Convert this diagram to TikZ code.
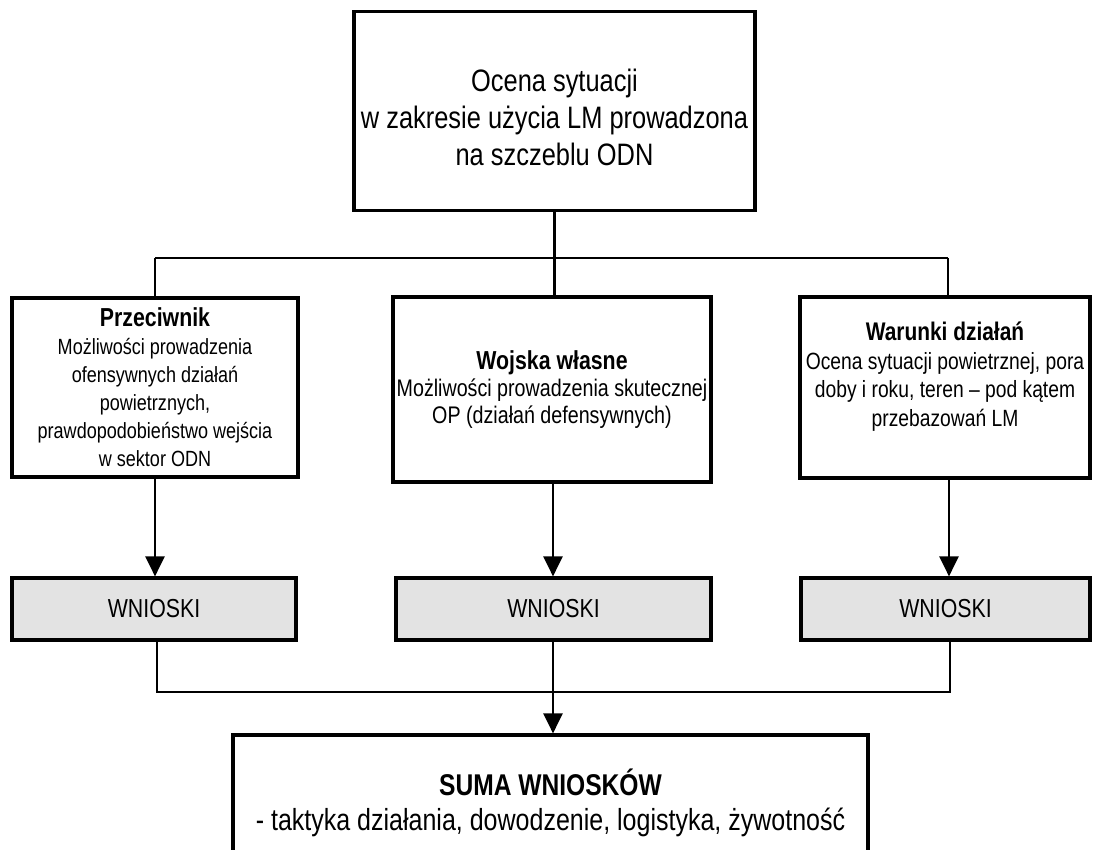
\documentclass[tikz,border=0pt]{standalone}
\usepackage{fontspec}
\setmainfont{Liberation Sans}[FakeStretch=0.82]
\usetikzlibrary{arrows.meta}
\begin{document}
\begin{tikzpicture}[x=1pt,y=-1pt,
  box/.style={draw=black,line width=3.2pt,align=center,inner sep=2pt},
  wn/.style={box,fill=black!11,font=\fontsize{26}{30}\selectfont},
  conn/.style={line width=2.3pt},
  arr/.style={conn,-{Triangle[length=20pt,width=19pt]}}]
\useasboundingbox (0,0) rectangle (1093,850);
\clip (0,0) rectangle (1093,850);
% top box
\node[box,minimum width=401pt,minimum height=199pt] (top) at (554.5,111) {};
\node[align=center,inner sep=0pt,font=\fontsize{31}{37}\selectfont] (toptext) at (554.5,117)
  {Ocena sytuacji\\w zakresie użycia LM prowadzona\\na szczeblu ODN};
% three boxes
\node[box,minimum width=286pt,minimum height=179pt,font=\fontsize{22}{28}\selectfont] (prz) at (155,387.5)
  {{\bfseries\fontsize{26}{28}\selectfont Przeciwnik}\\Możliwości prowadzenia\\ofensywnych działań\\powietrznych,\\prawdopodobieństwo wejścia\\w sektor ODN};
\node[box,minimum width=318pt,minimum height=185pt,font=\fontsize{24}{27}\selectfont] (woj) at (552,389.5)
  {{\bfseries\fontsize{26}{28}\selectfont Wojska własne}\\Możliwości prowadzenia skutecznej\\OP (działań defensywnych)};
\node[box,minimum width=290pt,minimum height=181pt,font=\fontsize{23.5}{28.5}\selectfont] (war) at (945,387.5)
  {{\bfseries\fontsize{25.5}{28}\selectfont Warunki działań}\\Ocena sytuacji powietrznej, pora\\doby i roku, teren -- pod kątem\\przebazowań LM\\[-2pt]\mbox{}};
% WNIOSKI boxes
\node[wn,minimum width=284pt,minimum height=62pt] (wl) at (154,609) {WNIOSKI};
\node[wn,minimum width=315pt,minimum height=62pt] (wm) at (553.5,609) {WNIOSKI};
\node[wn,minimum width=289pt,minimum height=62pt] (wr) at (945.5,609) {WNIOSKI};
% summary box
\node[box,minimum width=635pt,minimum height=136pt,font=\fontsize{30.5}{35}\selectfont] (suma) at (550.5,803)
  {{\bfseries\fontsize{30}{35}\selectfont SUMA WNIOSKÓW}\\- taktyka działania, dowodzenie, logistyka, żywotność};
% bus 1
\coordinate (b1l) at (155,258);
\coordinate (b1r) at (948,258);
\draw[conn] (top.south) -- (top.south |- b1l);
\draw[conn] (b1l) -- (b1r);
\draw[conn] (b1l) -- (b1l |- prz.north);
\draw[conn] (top.south |- b1l) -- (top.south |- woj.north);
\draw[conn] (b1r) -- (b1r |- war.north);
% arrows to WNIOSKI
\draw[arr] (prz.south) -- (prz.south |- wl.north);
\draw[arr] (553,0 |- woj.south) -- (553,0 |- wm.north);
\draw[arr] (949,0 |- war.south) -- (949,0 |- wr.north);
% bus 2
\coordinate (b2l) at (157,692);
\coordinate (b2r) at (950,692);
\coordinate (b2m) at (553,692);
\draw[conn] (b2l |- wl.south) -- (b2l) -- (b2r) -- (b2r |- wr.south);
\draw[conn] (b2m |- wm.south) -- (b2m);
\draw[arr] (b2m) -- (b2m |- suma.north);
\end{tikzpicture}
\end{document}
